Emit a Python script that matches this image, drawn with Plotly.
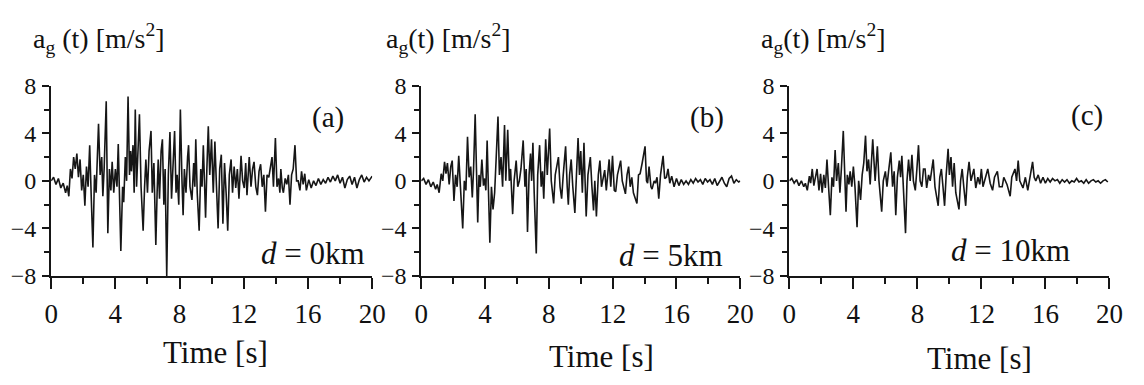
import plotly.graph_objects as go

# ---------------- data ----------------
time_a = [0.0, 0.15, 0.3, 0.45, 0.6, 0.75, 0.9, 1.0, 1.1, 1.2, 1.3, 1.4, 1.5, 1.6, 1.7, 1.8, 1.9, 2.0,
          2.1, 2.2, 2.3, 2.4, 2.5, 2.6, 2.7, 2.8, 2.95, 3.05, 3.15, 3.22, 3.3, 3.43, 3.53, 3.63, 3.72,
          3.8, 3.9, 4.0, 4.1, 4.18, 4.34, 4.45, 4.52, 4.62, 4.7, 4.79, 4.88, 4.95, 5.0, 5.1, 5.17,
          5.24, 5.32, 5.4, 5.5, 5.6, 5.73, 5.82, 5.9, 6.0, 6.1, 6.22, 6.3, 6.4, 6.52, 6.6, 6.67,
          6.75, 6.85, 6.93, 7.02, 7.1, 7.2, 7.3, 7.4, 7.5, 7.6, 7.69, 7.78, 7.85, 7.95, 8.05, 8.15,
          8.22, 8.3, 8.4, 8.5, 8.56, 8.65, 8.77, 8.88, 8.95, 9.01, 9.1, 9.22, 9.32, 9.4, 9.48, 9.55,
          9.62, 9.7, 9.79, 9.88, 9.99, 10.1, 10.2, 10.3, 10.4, 10.5, 10.6, 10.7, 10.8, 10.9, 11.0,
          11.1, 11.21, 11.3, 11.4, 11.5, 11.6, 11.7, 11.83, 11.93, 12.03, 12.12, 12.2, 12.34, 12.45,
          12.55, 12.64, 12.75, 12.85, 12.95, 13.05, 13.15, 13.25, 13.35, 13.45, 13.56, 13.66, 13.76,
          13.85, 13.97, 14.07, 14.17, 14.25, 14.31, 14.4, 14.47, 14.58, 14.68, 14.78, 14.88, 14.98,
          15.08, 15.19, 15.29, 15.39, 15.5, 15.6, 15.7, 15.8, 15.9, 16.05, 16.2, 16.35, 16.5, 16.65,
          16.8, 16.95, 17.1, 17.25, 17.4, 17.55, 17.7, 17.85, 18.0, 18.15, 18.3, 18.45, 18.6, 18.75,
          18.9, 19.05, 19.2, 19.35, 19.5, 19.65, 19.8, 20.0]
accel_a = [0.0, 0.3, -0.3, 0.2, -0.6, -0.2, -1.0, -0.4, -1.3, 1.0, 0.2, 2.0, 1.0, 2.3, 0.3, 1.8, -0.8, 0.5,
           -2.1, 1.2, -0.5, 3.0, -1.5, -5.6, 0.5, -1.0, 4.8, 0.5, 2.0, -1.3, 1.0, 6.7, -4.4, 1.0, -0.8,
           1.6, -1.0, 1.0, -0.5, 3.1, -5.9, -0.5, -1.8, 2.0, 0.0, 7.1, 0.5, 2.5, 0.8, 3.0, -1.0,
           6.0, -0.5, 2.0, 5.6, -0.5, -4.2, -0.5, 1.8, -1.0, 2.5, 4.2, -1.0, 1.5, -5.4, -1.0, 1.8,
           -1.5, 2.5, 3.5, -2.0, 1.0, -8.0, 0.5, 4.1, -1.5, 1.5, 4.2, -1.0, 0.5, -2.0, 6.0, 0.0,
           -2.9, 1.0, -1.0, 2.0, 3.0, -0.5, -1.6, 1.5, -0.5, 3.5, -1.0, -4.2, 1.0, -0.5, 3.0, 0.0,
           -3.1, 1.0, 4.6, 0.5, 3.5, -1.0, 3.3, -0.5, -4.0, 1.0, 2.2, -3.6, 1.5, -1.0, -4.2,
           0.5, 1.8, -1.0, 1.2, -0.6, 1.0, -1.5, 2.1, 0.0, -0.6, 1.5, -1.2, 2.0, -0.5,
           1.0, 1.6, -0.5, -1.2, 0.8, 1.4, -0.5, 0.5, -2.6, 0.5, 0.3, 1.0, 2.0,
           -0.5, 3.6, -0.5, 0.2, -1.0, 1.0, -0.6, -1.0, 0.2, -0.3, 0.5, -2.0, 0.5,
           1.0, 3.0, 0.0, 0.0, -0.8, 0.8, -0.3, 0.6, -0.8, 0.1, -0.6, 0.0, -0.4, 0.2,
           -0.3, 0.1, -0.2, 0.3, -0.1, 0.4, 0.0, 0.5, -0.2, 0.3, -0.6, 0.1, 0.4, -0.3,
           0.3, -0.6, 0.1, 0.5, -0.1, 0.3, 0.0, 0.4]

time_b = [0.0, 0.15, 0.3, 0.45, 0.6, 0.75, 0.9, 1.0, 1.12, 1.25, 1.35, 1.46, 1.55, 1.64, 1.75, 1.85, 1.94,
          2.05, 2.15, 2.25, 2.35, 2.45, 2.6, 2.7, 2.8, 2.9, 3.0, 3.1, 3.2, 3.28, 3.38, 3.54, 3.62, 3.7,
          3.8, 3.9, 3.98, 4.05, 4.13, 4.3, 4.4, 4.5, 4.6, 4.7, 4.81, 4.9, 5.0, 5.1, 5.22, 5.3, 5.42,
          5.52, 5.6, 5.73, 5.82, 5.95, 6.05, 6.15, 6.25, 6.39, 6.5, 6.58, 6.66, 6.76, 6.85, 6.92, 7.0,
          7.08, 7.21, 7.3, 7.42, 7.52, 7.6, 7.68, 7.8, 7.9, 7.97, 8.05, 8.15, 8.3, 8.4, 8.6, 8.7, 8.8,
          8.9, 9.05, 9.15, 9.22, 9.3, 9.4, 9.5, 9.63, 9.73, 9.83, 9.92, 10.0, 10.1, 10.2, 10.27, 10.34,
          10.45, 10.6, 10.7, 10.8, 10.88, 10.98, 11.1, 11.2, 11.3, 11.5, 11.6, 11.78, 11.88, 11.99,
          12.1, 12.19, 12.3, 12.5, 12.6, 12.8, 12.9, 13.0, 13.1, 13.2, 13.3, 13.52, 13.62, 13.72,
          13.85, 14.03, 14.12, 14.19, 14.28, 14.4, 14.47, 14.6, 14.68, 14.78, 14.89, 15.0, 15.16,
          15.26, 15.37, 15.47, 15.58, 15.7, 15.85, 16.0, 16.15, 16.3, 16.45, 16.6, 16.75, 16.9,
          17.05, 17.2, 17.35, 17.5, 17.65, 17.8, 17.95, 18.1, 18.25, 18.4, 18.55, 18.7, 18.85, 19.0,
          19.15, 19.3, 19.45, 19.6, 19.75, 19.9, 20.0]
accel_b = [0.0, 0.2, -0.3, 0.1, -0.5, -0.1, -0.7, -0.3, -1.0, 0.6, 0.0, 1.6, 0.6, 1.5, -0.3, 1.2, 1.7,
           -1.7, 0.5, -0.5, 2.1, -0.8, -4.0, 0.0, -0.8, 3.7, 0.3, 1.2, -1.4, 1.0, 5.6, -3.5, 0.5, -0.5,
           1.8, -0.4, 0.2, -0.8, 3.4, -5.2, -0.5, -2.4, -1.0, 2.0, 5.4, 0.5, 2.0, -0.5, 4.7, 0.0, 4.3,
           0.0, 1.0, -2.8, 0.0, 1.7, -0.5, 0.0, 1.0, 3.4, -0.5, 1.0, -4.3, 0.5, 2.3, 0.0, 3.2,
           -1.0, -6.1, 0.5, 3.0, -0.5, 0.8, -1.5, 3.5, 0.5, 2.0, 4.4, 0.0, -1.9, 0.5, 2.0, -0.5, -1.5,
           0.5, 2.9, -0.5, -2.0, 0.5, 1.8, -0.5, -2.7, 0.5, 3.6, 0.5, 2.5, -1.0, 3.2, 0.0, -3.0,
           0.5, 2.0, -0.5, -2.5, 0.0, -3.0, 0.5, 1.7, -0.5, 0.9, -0.8, 1.8, -0.5, 2.1,
           -0.8, -0.9, 0.5, 1.7, 0.0, -1.1, 0.5, 1.2, -0.5, 0.3, -1.0, -1.9, 0.5, 0.6,
           1.5, 2.9, 0.0, -0.2, 1.2, -0.5, -0.7, 0.0, -0.2, 0.3, -1.5, 0.5, 2.1,
           0.2, 0.3, 1.0, -0.2, 0.4, -0.5, 0.2, -0.4, 0.1, -0.3, 0.0, -0.3, 0.1,
           -0.2, 0.2, -0.1, 0.1, -0.3, 0.2, -0.1, 0.1, -0.3, 0.2, -0.4, 0.0, 0.3, -0.2,
           -0.5, 0.2, 0.4, -0.2, 0.1, -0.1, 0.0]

time_c = [0.0, 0.15, 0.3, 0.45, 0.6, 0.75, 0.9, 1.0, 1.12, 1.25, 1.33, 1.43, 1.53, 1.63, 1.73, 1.85, 1.95,
          2.05, 2.15, 2.25, 2.35, 2.45, 2.56, 2.66, 2.76, 2.86, 2.95, 3.06, 3.16, 3.25, 3.37, 3.54, 3.62,
          3.72, 3.8, 3.9, 4.0, 4.1, 4.23, 4.33, 4.45, 4.55, 4.65, 4.76, 4.85, 4.95, 5.05, 5.21, 5.3,
          5.36, 5.5, 5.6, 5.77, 5.87, 6.0, 6.1, 6.2, 6.34, 6.45, 6.55, 6.65, 6.75, 6.87, 6.95, 7.03,
          7.12, 7.26, 7.35, 7.45, 7.55, 7.66, 7.75, 7.87, 7.97, 8.07, 8.17, 8.28, 8.38, 8.48, 8.58,
          8.7, 8.8, 8.99, 9.1, 9.3, 9.4, 9.5, 9.6, 9.7, 9.8, 9.92, 10.0, 10.1, 10.2, 10.3, 10.4, 10.6,
          10.7, 10.8, 10.9, 11.02, 11.12, 11.23, 11.35, 11.53, 11.65, 11.78, 11.9, 12.0, 12.1, 12.4,
          12.55, 12.7, 12.82, 13.0, 13.12, 13.3, 13.4, 13.6, 13.8, 13.9, 14.1, 14.2, 14.3, 14.4, 14.6,
          14.75, 14.9, 15.0, 15.2, 15.3, 15.4, 15.55, 15.7, 15.85, 16.0, 16.15, 16.3, 16.45, 16.6,
          16.75, 16.9, 17.05, 17.2, 17.35, 17.5, 17.65, 17.8, 17.95, 18.1, 18.25, 18.4, 18.55, 18.7,
          18.85, 19.0, 19.15, 19.3, 19.45, 19.6, 19.75, 19.9]
accel_c = [0.0, 0.2, -0.2, 0.1, -0.4, 0.0, -0.5, -0.2, -0.8, 0.4, -0.2, 1.0, -0.4, 0.5, 1.0, -0.8, 0.6,
           -1.0, 0.5, -0.6, 1.8, -0.5, -2.9, 0.3, -0.5, 2.6, 0.0, 1.5, -1.0, 1.0, 4.2, -2.6, 0.5,
           -0.3, 0.8, -0.5, 1.2, -0.5, -3.9, 0.0, -1.6, 0.5, 1.5, 3.8, 0.8, 1.8, -0.3, 3.5, 0.5,
           0.0, 2.9, 0.0, -2.6, 0.0, 0.8, -0.5, 0.8, 2.4, -0.5, 0.8, -2.9, 0.3, 1.7, 0.3, 2.1,
           -0.5, -4.4, 0.0, 1.8, 0.0, 2.2, 0.0, -0.8, 1.0, 3.0, 0.0, -0.5, 1.0, 1.0, -0.6,
           0.5, 0.0, 1.8, -0.5, -2.1, 0.3, 1.0, -0.5, -2.1, 0.5, 2.7, 0.5, 2.0, -0.5, 1.5, -1.0, -2.4,
           0.0, 1.0, -0.5, -2.1, 0.3, 1.6, 0.0, 1.0, -0.6, 0.3, -0.3, 1.0, -0.5, 1.0,
           -0.2, -0.8, 0.3, 0.8, -0.5, -0.5, 0.3, -0.3, -1.3, 0.3, 1.0, 0.0, 1.7, 0.0, -0.6,
           0.3, -0.8, 0.0, 1.6, 0.3, 0.0, 0.5, -0.2, 0.3, -0.2, 0.2, -0.1, 0.2, 0.0,
           0.1, -0.2, 0.1, -0.1, 0.1, -0.2, 0.0, -0.1, 0.2, -0.1, 0.0, -0.2, 0.1, -0.2,
           0.0, 0.1, -0.1, 0.0, -0.2, 0.0, 0.1, -0.1]

x_ticks = [0, 4, 8, 12, 16, 20]
x_minor = [2, 6, 10, 14, 18]
y_ticks = [-8, -4, 0, 4, 8]
y_minor = [-6, -2, 2, 6]

panel_labels = ["(a)", "(b)", "(c)"]
distance_labels = ["<i>d</i> = 0km", "<i>d</i> = 5km", "<i>d</i> = 10km"]
y_titles = ["a<sub>g</sub> (t) [m/s<sup>2</sup>]", "a<sub>g</sub>(t) [m/s<sup>2</sup>]",
            "a<sub>g</sub>(t) [m/s<sup>2</sup>]"]
x_title = "Time [s]"

# ---------------- figure ----------------
W, H = 1144, 385
FONT = "Liberation Serif"
INK = "#161616"

def px(x):
    return x / W

def py(y):
    return 1 - y / H

x_domains = [[px(45), px(372)], [px(422), px(747)], [px(797), px(1123)]]
y_domain = [py(282), py(78)]

fig = go.Figure()
series = [(time_a, accel_a), (time_b, accel_b), (time_c, accel_c)]
for i, (t, a) in enumerate(series):
    sfx = "" if i == 0 else str(i + 1)
    fig.add_trace(go.Scatter(x=t, y=a, mode="lines", line=dict(color=INK, width=1.6),
                             xaxis="x" + sfx, yaxis="y" + sfx, hoverinfo="skip"))

layout = dict(width=W, height=H, margin=dict(l=0, r=0, t=0, b=0),
              plot_bgcolor="white", paper_bgcolor="white", showlegend=False,
              font=dict(family=FONT, color="#111", size=24))
for i in range(3):
    sfx = "" if i == 0 else str(i + 1)
    layout["xaxis" + sfx] = dict(
        domain=x_domains[i], range=[0, 20], anchor="y" + sfx,
        tickmode="array", tickvals=x_ticks, ticks="outside", ticklen=11, tickwidth=1.6,
        tickcolor=INK, showline=True, linecolor=INK, linewidth=2, showgrid=False,
        zeroline=False, tickfont=dict(family=FONT, size=27, color="#111"),
        ticklabelstandoff=2,
        minor=dict(tickmode="array", tickvals=x_minor, ticks="outside", ticklen=6,
                   tickwidth=1.6, tickcolor=INK, showgrid=False))
    layout["yaxis" + sfx] = dict(
        domain=y_domain, range=[-8, 8], anchor="x" + sfx,
        tickmode="array", tickvals=y_ticks, ticks="outside", ticklen=7, tickwidth=1.6,
        tickcolor=INK, showline=True, linecolor=INK, linewidth=2, showgrid=False,
        zeroline=False, tickfont=dict(family=FONT, size=24, color="#111"),
        ticklabelstandoff=1,
        minor=dict(tickmode="array", tickvals=y_minor, ticks="outside", ticklen=5,
                   tickwidth=1.6, tickcolor=INK, showgrid=False))
fig.update_layout(**layout)

ann = []
title_pos = [(212, 364), (606, 368), (991, 371)]
ytitle_pos = [(24, 27), (384, 27), (766, 27)]
plabel_pos = [(327, 112), (713, 112), (1100, 110)]
dlabel_pos = [(312, 258), (676, 260), (1022, 255)]
for i in range(3):
    ann.append(dict(text=x_title, x=px(title_pos[i][0]), y=py(title_pos[i][1]), xref="paper",
                    yref="paper", xanchor="center", yanchor="middle", showarrow=False,
                    font=dict(family=FONT, size=31, color="#111")))
    ann.append(dict(text=y_titles[i], x=px(ytitle_pos[i][0]), y=py(ytitle_pos[i][1]), xref="paper",
                    yref="paper", xanchor="left", yanchor="middle", showarrow=False,
                    font=dict(family=FONT, size=28, color="#111")))
    ann.append(dict(text=panel_labels[i], x=px(plabel_pos[i][0]), y=py(plabel_pos[i][1]),
                    xref="paper", yref="paper", xanchor="center", yanchor="middle",
                    showarrow=False, font=dict(family=FONT, size=29, color="#111")))
    ann.append(dict(text=distance_labels[i], x=px(dlabel_pos[i][0]), y=py(dlabel_pos[i][1]),
                    xref="paper", yref="paper", xanchor="center", yanchor="middle",
                    showarrow=False, font=dict(family=FONT, size=31, color="#111")))
fig.update_layout(annotations=ann)

fig.write_html("out.html")
